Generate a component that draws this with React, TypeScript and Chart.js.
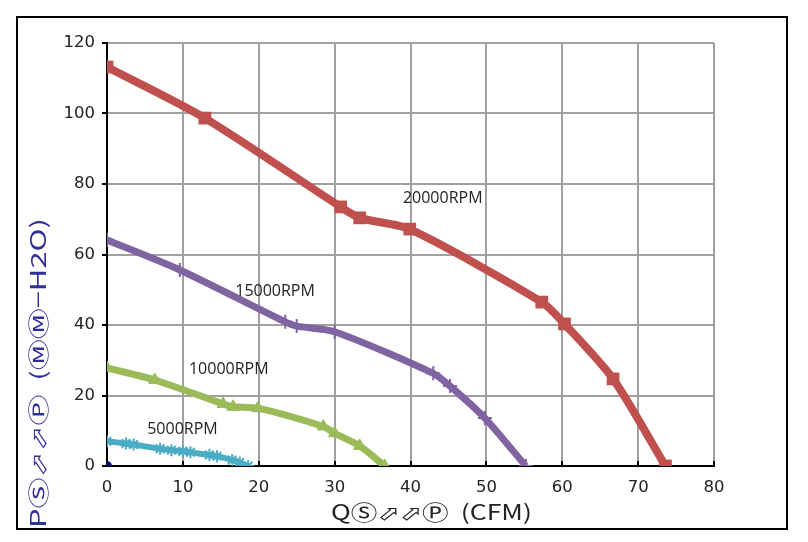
import React, { useEffect, useRef } from "react";
import { Chart, registerables } from "chart.js";

Chart.register(...registerables);

// Fan curves: Q (CFM) vs static pressure (mm-H2O)
const rpm20000X = [0, 12.9, 30.8, 33.3, 39.9, 57.3, 60.3, 66.7, 73.6];
const rpm20000Y = [113.2, 98.7, 73.5, 70.4, 67.2, 46.5, 40.3, 24.7, 0];

const rpm15000X = [0, 9.6, 23.5, 25.0, 30.0, 43.0, 45.2, 49.8, 55.2];
const rpm15000Y = [64.1, 55.6, 40.9, 39.7, 38.1, 26.3, 22.7, 13.6, 0];

const rpm10000X = [0, 6.3, 15.3, 16.6, 19.9, 28.5, 30.0, 33.3, 36.6];
const rpm10000Y = [27.8, 24.4, 17.6, 16.8, 16.4, 11.2, 9.3, 5.7, 0];

const rpm5000X = [0, 2.5, 3.5, 7.0, 8.5, 10.0, 11.0, 13.5, 14.5, 16.5, 17.5, 18.6];
const rpm5000Y = [7.0, 6.4, 6.1, 4.9, 4.5, 4.2, 3.9, 3.1, 2.8, 1.7, 1.0, 0];

const originX = [0];
const originY = [0];

const seriesNames = ["20000RPM", "15000RPM", "10000RPM", "5000RPM"];
// label anchor positions in data units (left edge, vertical middle)
const labelX = [39.0, 16.9, 10.8, 5.3];
const labelY = [76.0, 49.4, 27.5, 10.5];

const xTicks = [0, 10, 20, 30, 40, 50, 60, 70, 80];
const yTicks = [0, 20, 40, 60, 80, 100, 120];

const yTitle = "PⓈ⬀⬀Ⓟ  (ⓂⓂ−H2O)";
const xTitle = "QⓈ⬀⬀Ⓟ  (CFM)";

const pts = (xs: number[], ys: number[]) => xs.map((x, i) => ({ x, y: ys[i] }));

export default function App() {
  const ref = useRef<HTMLCanvasElement | null>(null);

  useEffect(() => {
    if (!ref.current) return;

    const framePlugin = {
      id: "frame",
      beforeDraw(chart: any) {
        const ctx = chart.ctx;
        ctx.save();
        ctx.fillStyle = "#ffffff";
        ctx.fillRect(0, 0, chart.width, chart.height);
        ctx.strokeStyle = "#000000";
        ctx.lineWidth = 2;
        ctx.strokeRect(17, 17, 770, 512);
        ctx.restore();
      },
    };

    const fitText = (ctx: any, text: string, len: number) => {
      const w = ctx.measureText(text).width;
      ctx.scale(len / w, 1);
      ctx.fillText(text, 0, 0);
    };

    const textPlugin = {
      id: "texts",
      afterDatasetsDraw(chart: any) {
        const ctx = chart.ctx;
        const xs = chart.scales.x;
        const ys = chart.scales.y;
        ctx.save();
        ctx.font = '16px "Open Sans"';
        ctx.fillStyle = "#222222";
        ctx.textAlign = "left";
        ctx.textBaseline = "middle";
        seriesNames.forEach((n, i) => {
          ctx.fillText(n, xs.getPixelForValue(labelX[i]), ys.getPixelForValue(labelY[i]));
        });
        ctx.restore();
      },
      afterDraw(chart: any) {
        const ctx = chart.ctx;
        const titleFont = '21px "Noto Sans CJK SC", "DejaVu Sans"';
        ctx.save();
        ctx.font = titleFont;
        ctx.fillStyle = "#2f2f9a";
        ctx.textBaseline = "middle";
        ctx.textAlign = "left";
        ctx.translate(38, 528);
        ctx.rotate(-Math.PI / 2);
        fitText(ctx, yTitle, 310);
        ctx.restore();

        ctx.save();
        ctx.font = titleFont;
        ctx.fillStyle = "#222222";
        ctx.textBaseline = "middle";
        ctx.textAlign = "left";
        ctx.translate(331, 512);
        fitText(ctx, xTitle, 201);
        ctx.restore();
      },
    };

    const tickFont = { family: '"DejaVu Sans"', size: 16.5 };

    const common = { tension: 0.25, clip: 0 };

    const chart = new Chart(ref.current, {
      type: "line",
      data: {
        datasets: [
          {
            label: seriesNames[0],
            data: pts(rpm20000X, rpm20000Y),
            borderColor: "#C0504D",
            backgroundColor: "#C0504D",
            borderWidth: 8,
            pointStyle: "rect",
            pointRadius: 9,
            pointBorderWidth: 0,
            ...common,
          },
          {
            label: seriesNames[1],
            data: pts(rpm15000X, rpm15000Y),
            borderColor: "#8064A2",
            backgroundColor: "#8064A2",
            borderWidth: 7,
            pointStyle: "cross",
            pointRadius: 7,
            pointBorderWidth: 2,
            ...common,
          },
          {
            label: seriesNames[2],
            data: pts(rpm10000X, rpm10000Y),
            borderColor: "#9BBB59",
            backgroundColor: "#9BBB59",
            borderWidth: 7,
            pointStyle: "triangle",
            pointRadius: 7,
            pointBorderWidth: 1,
            ...common,
          },
          {
            label: seriesNames[3],
            data: pts(rpm5000X, rpm5000Y),
            borderColor: "#4BACC6",
            backgroundColor: "#4BACC6",
            borderWidth: 6,
            pointStyle: "star",
            pointRadius: 6,
            pointBorderWidth: 2,
            ...common,
          },
          {
            label: "origin",
            data: pts(originX, originY),
            borderColor: "#10107a",
            backgroundColor: "#10107a",
            borderWidth: 0,
            pointStyle: "circle",
            pointRadius: 5,
            showLine: false,
            clip: 0,
          },
        ],
      },
      options: {
        responsive: false,
        animation: false,
        devicePixelRatio: 1,
        layout: { padding: { left: 0, top: 43, right: 94, bottom: 0 } },
        plugins: {
          legend: { display: false },
          tooltip: { enabled: false },
        },
        scales: {
          x: {
            type: "linear",
            min: 0,
            max: 80,
            afterBuildTicks: (s: any) => {
              s.ticks = xTicks.map((v) => ({ value: v }));
            },
            afterFit: (s: any) => {
              s.height = 76;
            },
            ticks: { font: tickFont, color: "#222222", padding: 17, maxRotation: 0 },
            grid: { color: "#a0a0a0", lineWidth: 2, tickLength: -5, tickColor: "#000000", tickWidth: 2 },
            border: { color: "#000000", width: 2 },
          },
          y: {
            type: "linear",
            min: 0,
            max: 120,
            afterBuildTicks: (s: any) => {
              s.ticks = yTicks.map((v) => ({ value: v }));
            },
            afterFit: (s: any) => {
              s.width = 107;
            },
            ticks: { font: tickFont, color: "#222222", padding: 7 },
            grid: { color: "#a0a0a0", lineWidth: 2, tickLength: 5, tickColor: "#000000", tickWidth: 2 },
            border: { color: "#000000", width: 2 },
          },
        },
      },
      plugins: [framePlugin, textPlugin],
    } as any);

    return () => chart.destroy();
  }, []);

  return (
    <div style={{ position: "fixed", left: 0, top: 0, width: 808, height: 542, background: "#fff" }}>
      <canvas ref={ref} width={808} height={542} style={{ display: "block", width: 808, height: 542 }} />
    </div>
  );
}
